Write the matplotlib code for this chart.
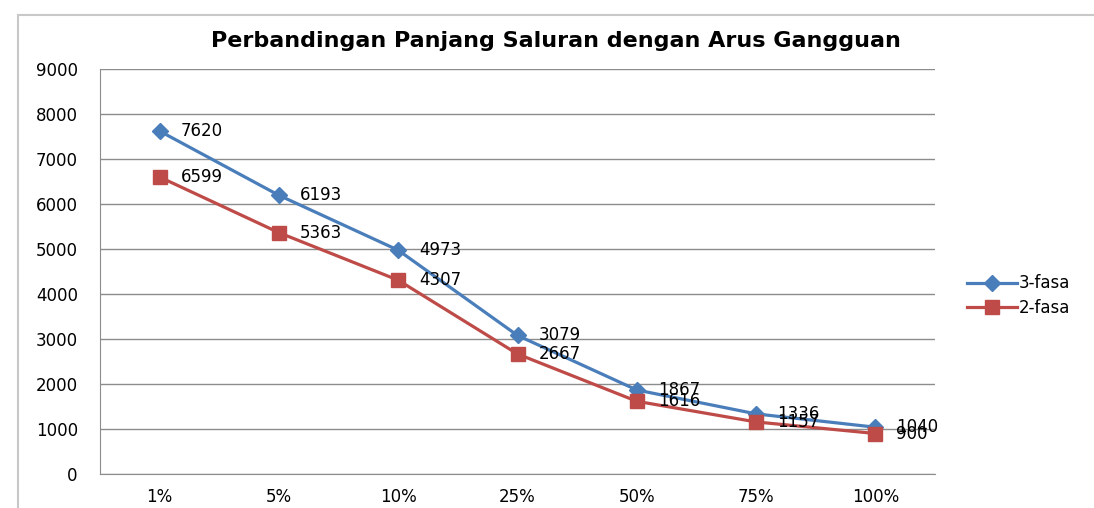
import matplotlib.pyplot as plt
from matplotlib.patches import Rectangle

# ----------------------------
# Data
# ----------------------------
categories = ["1%", "5%", "10%", "25%", "50%", "75%", "100%"]
fasa3 = [7620, 6193, 4973, 3079, 1867, 1336, 1040]
fasa2 = [6599, 5363, 4307, 2667, 1616, 1157, 900]

blue = "#4A7EBB"
red = "#BE4B48"

plt.rcParams["font.family"] = ["DejaVu Sans"]

fig = plt.figure(figsize=(10.94, 5.08), dpi=100)

# Excel chart frame
fig.patches.append(Rectangle((0.016, -0.01), 1.0, 0.98, transform=fig.transFigure,
                             fill=False, edgecolor="#C8C8C8", linewidth=1.5))

ax = fig.add_axes([0.0914, 0.0669, 0.7633, 0.7973])

x = list(range(len(categories)))

ax.plot(x, fasa3, color=blue, linewidth=2.3, marker="D", markersize=8,
        label="3-fasa")
ax.plot(x, fasa2, color=red, linewidth=2.3, marker="s", markersize=10,
        label="2-fasa")

for xi, v in zip(x, fasa3):
    ax.annotate(str(v), (xi, v), xytext=(15, 0), textcoords="offset points",
                va="center", ha="left", fontsize=12)
for xi, v in zip(x, fasa2):
    ax.annotate(str(v), (xi, v), xytext=(15, 0), textcoords="offset points",
                va="center", ha="left", fontsize=12)

ax.set_xlim(-0.5, len(categories) - 0.5)
ax.set_ylim(0, 9000)
ax.set_yticks(range(0, 9001, 1000))
ax.set_xticks(x)
ax.set_xticklabels(categories)
ax.tick_params(axis="both", length=0, labelsize=12)
ax.tick_params(axis="y", pad=16)
ax.tick_params(axis="x", pad=10)

ax.grid(axis="y", color="#8C8C8C", linewidth=1)
ax.set_axisbelow(True)
for s in ["top", "right"]:
    ax.spines[s].set_visible(False)
ax.spines["left"].set_color("#8C8C8C")
ax.spines["bottom"].set_color("#8C8C8C")

fig.text(0.508, 0.92, "Perbandingan Panjang Saluran dengan Arus Gangguan",
         ha="center", va="center", fontsize=16, fontweight="bold")

ax.legend(loc="center left", bbox_to_anchor=(1.02, 0.44), frameon=False,
          fontsize=12, handlelength=3.0, labelspacing=0.4, handletextpad=0.1)

fig.savefig("out.png", dpi=100)
